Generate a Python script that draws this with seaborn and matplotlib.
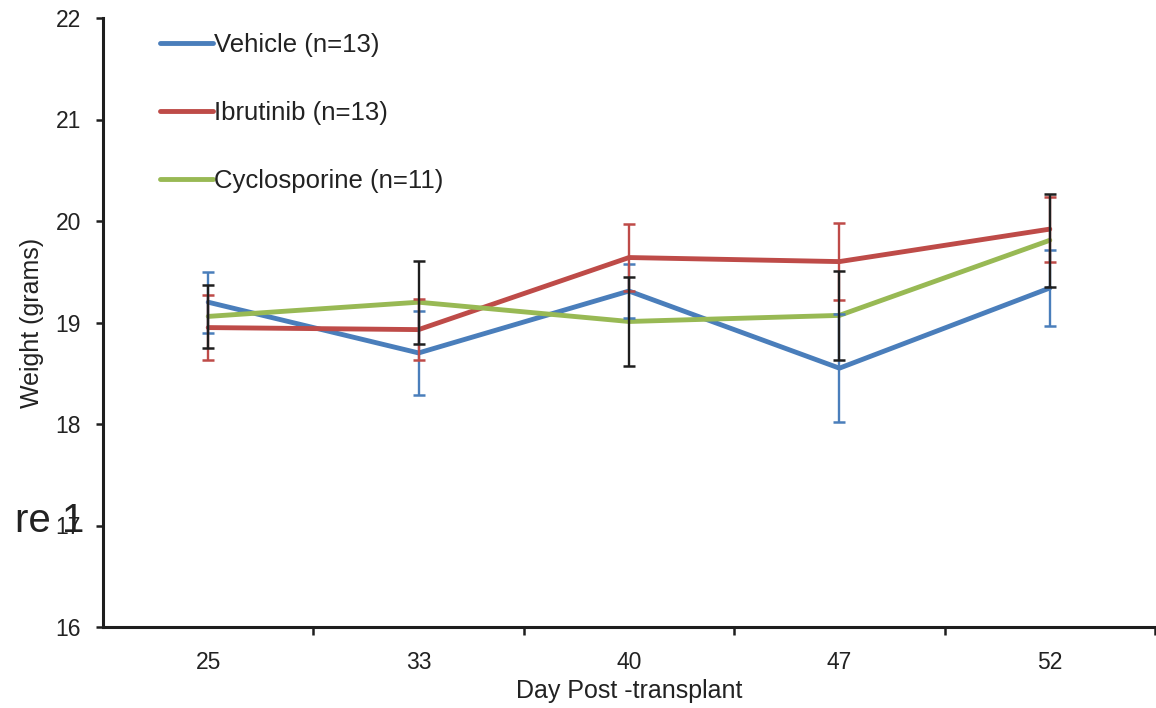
import numpy as np
import pandas as pd
import matplotlib
matplotlib.use("Agg")
import matplotlib.pyplot as plt
import seaborn as sns
from matplotlib.ticker import FixedLocator, NullFormatter, FixedFormatter

# Mean body weight (grams) with error bars, per treatment group
days = ["25", "33", "40", "47", "52"]
groups = ["Vehicle (n=13)", "Ibrutinib (n=13)", "Cyclosporine (n=11)"]
vehicle_mean = [19.20, 18.70, 19.31, 18.55, 19.34]
vehicle_err = [0.30, 0.41, 0.27, 0.53, 0.37]
ibrutinib_mean = [18.95, 18.93, 19.64, 19.60, 19.92]
ibrutinib_err = [0.32, 0.30, 0.33, 0.38, 0.32]
cyclosporine_mean = [19.06, 19.20, 19.01, 19.07, 19.81]
cyclosporine_err = [0.31, 0.41, 0.44, 0.44, 0.46]
y_ticks = [16, 17, 18, 19, 20, 21, 22]

line_colors = ["#4A7EBB", "#BE4B48", "#98B954"]
err_colors = ["#4A7EBB", "#BE4B48", "#1E1E1E"]

means = [vehicle_mean, ibrutinib_mean, cyclosporine_mean]
errs = [vehicle_err, ibrutinib_err, cyclosporine_err]

rows = []
for g, m, e in zip(groups, means, errs):
    for i, (d, v, s) in enumerate(zip(days, m, e)):
        rows.append({"group": g, "pos": i, "day": d, "weight": v, "err": s})
df = pd.DataFrame(rows)

sns.set_theme(style="ticks")
plt.rcParams["font.family"] = ["Liberation Sans", "DejaVu Sans"]

fig = plt.figure(figsize=(11.56, 7.08), dpi=100)
ax = fig.add_axes([103 / 1156, 1 - 627 / 708, (1155 - 103) / 1156, (627 - 18) / 708])

sns.lineplot(data=df, x="pos", y="weight", hue="group", hue_order=groups,
             palette=line_colors, linewidth=3.5, sort=False, legend=False,
             errorbar=None, ax=ax, zorder=3)

for k, g in enumerate(groups):
    sub = df[df["group"] == g]
    ax.errorbar(sub["pos"], sub["weight"], yerr=sub["err"], fmt="none",
                ecolor=err_colors[k], elinewidth=1.7, capsize=4.5,
                capthick=1.8, zorder=4 + k)

# Category axis: ticks on the boundaries, labels centred in each slot
ax.set_xlim(-0.5, len(days) - 0.5)
ax.xaxis.set_major_locator(FixedLocator(np.arange(0.5, len(days), 1.0)))
ax.xaxis.set_major_formatter(NullFormatter())
ax.xaxis.set_minor_locator(FixedLocator(np.arange(len(days))))
ax.xaxis.set_minor_formatter(FixedFormatter(days))
ax.tick_params(axis="x", which="major", direction="out", length=6, width=1.8, color="#1E1E1E")
ax.tick_params(axis="x", which="minor", length=0, pad=17, labelsize=16.5, labelcolor="#222222")

ax.set_ylim(16, 22)
ax.set_yticks(y_ticks)
ax.tick_params(axis="y", direction="out", length=5, width=1.8, pad=11,
               labelsize=16.5, labelcolor="#222222", color="#1E1E1E")

for side in ["top", "right"]:
    ax.spines[side].set_visible(False)
for side in ["left", "bottom"]:
    ax.spines[side].set_linewidth(2.2)
    ax.spines[side].set_color("#1E1E1E")

ax.set_xlabel("Day Post -transplant", fontsize=18, color="#222222", labelpad=4)
ax.set_ylabel("Weight (grams)", fontsize=18, color="#222222", labelpad=8)

handles = [plt.Line2D([], [], color=c, linewidth=3.5) for c in line_colors]
leg = ax.legend(handles, groups, loc="upper left",
                bbox_to_anchor=(160 / 1156, 1 - 33 / 708),
                bbox_transform=fig.transFigure, frameon=False, fontsize=18.5,
                handlelength=2.05, handletextpad=0.05, labelspacing=1.72,
                borderpad=0, borderaxespad=0)
for t in leg.get_texts():
    t.set_color("#222222")

fig.text(15 / 1156, 1 - 532 / 708, "re 1", fontsize=29, color="#222222",
         ha="left", va="baseline")

fig.savefig("out.png", dpi=100, facecolor="white")
